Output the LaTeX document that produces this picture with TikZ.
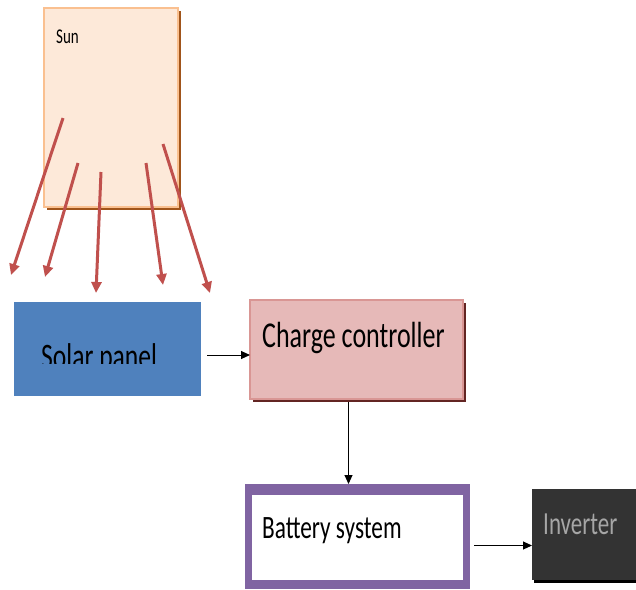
\documentclass[tikz,border=0pt]{standalone}
\usepackage{fontspec}
\setmainfont{Carlito}
\usepackage{graphicx}
\usetikzlibrary{arrows.meta,calc}
\definecolor{sunfill}{HTML}{FDE9D9}
\definecolor{sunline}{HTML}{FAC090}
\definecolor{sunshadow}{HTML}{A0541A}
\definecolor{ray}{HTML}{C0504D}
\definecolor{panelblue}{HTML}{4F81BD}
\definecolor{ccfill}{HTML}{E6B9B8}
\definecolor{ccline}{HTML}{D99694}
\definecolor{ccshadow}{HTML}{632523}
\definecolor{batpurple}{HTML}{8064A2}
\definecolor{invfill}{HTML}{333333}
\definecolor{invtext}{HTML}{A6A6A6}
\tikzset{
  box/.style={inner sep=0pt, outer sep=0pt, anchor=north west},
  txt/.style={inner sep=0pt, anchor=base west},
  rayarrow/.style={draw=ray, line width=3pt, -{Triangle[length=11pt,width=10pt]}},
  link/.style={draw=black, line width=1pt, -{Triangle[length=9pt,width=8pt]}}
}
\newcommand{\vs}[1]{\scalebox{1}[1.4]{#1}}
\begin{document}
\begin{tikzpicture}[x=1pt,y=-1pt]
\clip (0,0) rectangle (636,589);
\fill[white] (0,0) rectangle (636,589);
% Sun
\fill[sunshadow] (47,11) rectangle (181,210);
\node[box, fill=sunfill, draw=sunline, line width=1.5pt, minimum width=134pt, minimum height=199pt] (sun) at (44,8) {};
\node[txt, font=\fontsize{15}{18}\selectfont] (sunlabel) at (56,43) {\vs{Sun}};
% rays
\coordinate (r1a) at (63,118); \coordinate (r1b) at (11,275);
\coordinate (r2a) at (78,163); \coordinate (r2b) at (45,277);
\coordinate (r3a) at (101,172); \coordinate (r3b) at (96,293);
\coordinate (r4a) at (146,163); \coordinate (r4b) at (163,285);
\coordinate (r5a) at (163,144); \coordinate (r5b) at (210,293);
\draw[rayarrow] (r1a) -- (r1b);
\draw[rayarrow] (r2a) -- (r2b);
\draw[rayarrow] (r3a) -- (r3b);
\draw[rayarrow] (r4a) -- (r4b);
\draw[rayarrow] (r5a) -- (r5b);
% Solar panel
\node[box, fill=panelblue, minimum width=187pt, minimum height=94pt] (panel) at (14,302) {};
\begin{scope}
\clip (14,302) rectangle (201,363);
\node[txt, font=\fontsize{25.6}{30}\selectfont] (panellabel) at (41,368) {\vs{Solar panel}};
\end{scope}
% Charge controller
\fill[ccshadow] (253,303) rectangle (466,402);
\node[box, fill=ccfill, draw=ccline, line width=1.5pt, minimum width=213pt, minimum height=99pt] (cc) at (250,300) {};
\node[txt, font=\fontsize{26}{30}\selectfont] (cclabel) at (262,347) {\vs{Charge controller}};
% Battery system
\node[box, fill=batpurple, minimum width=225pt, minimum height=105pt] (bat) at (245,484) {};
\fill[white] (252,495) rectangle (463,580);
\node[txt, font=\fontsize{23.3}{28}\selectfont] (batlabel) at (262,538) {\vs{Battery system}};
% Inverter
\fill[black] (534,491) rectangle (645,583);
\node[box, fill=invfill, minimum width=110pt, minimum height=91pt] (inv) at (532,489) {};
\node[txt, font=\fontsize{23}{28}\selectfont, text=invtext] (invlabel) at (543,534) {\vs{Inverter}};
% connectors
\draw[link, shorten <=6pt] ([yshift=-6pt]panel.east) -- ([yshift=-6pt]panel.east -| cc.west);
\draw[link, shorten <=3pt] ([xshift=-8pt]cc.south) -- ([xshift=-8pt]cc.south |- bat.north);
\draw[link, shorten <=4pt] ([yshift=-9pt]bat.east) -- ([yshift=-9pt]bat.east -| inv.west);
\end{tikzpicture}
\end{document}
